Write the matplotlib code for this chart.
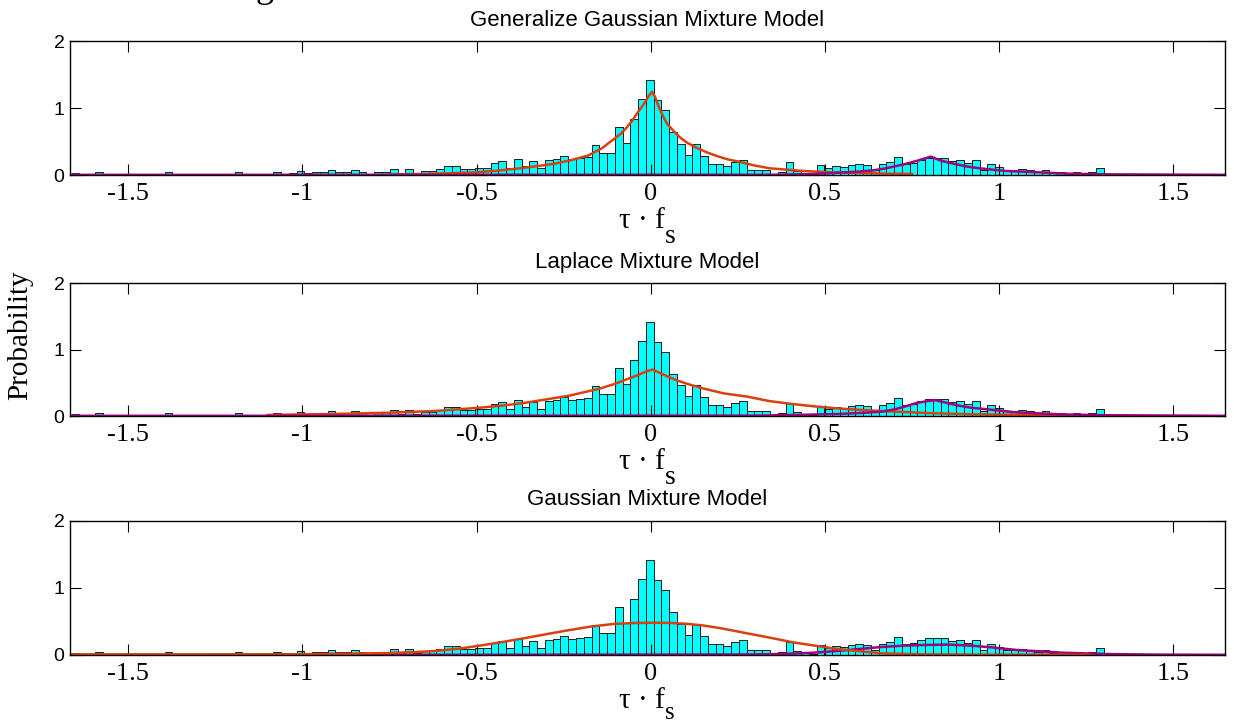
import numpy as np
import matplotlib
matplotlib.use('Agg')
import matplotlib.pyplot as plt

# histogram of tau*fs (same data in all three panels), 149 bins
bin_w = 0.02228
heights = [
    0.025, 0, 0, 0.05, 0, 0, 0, 0, 0, 0,                        # 0-9
    0.02, 0, 0.04, 0, 0, 0, 0, 0.02, 0, 0.02,                   # 10-19
    0, 0.05, 0, 0.02, 0, 0, 0.04, 0, 0.035, 0.055,              # 20-29
    0.035, 0.045, 0.045, 0.08, 0.045, 0.045, 0.075, 0.05, 0.02, 0.045,   # 30-39
    0.045, 0.095, 0.03, 0.09, 0.03, 0.06, 0.06, 0.09, 0.135, 0.135,      # 40-49
    0.09, 0.09, 0.105, 0.105, 0.18, 0.21, 0.105, 0.24, 0.135, 0.21,      # 50-59
    0.105, 0.225, 0.24, 0.285, 0.24, 0.255, 0.27, 0.45, 0.33, 0.33,      # 60-69
    0.72, 0.48, 0.84, 1.135, 1.42, 1.12, 0.97, 0.635, 0.46, 0.295,       # 70-79
    0.46, 0.285, 0.16, 0.16, 0.13, 0.195, 0.22, 0.08, 0.07, 0.07,        # 80-89
    0.01, 0.05, 0.195, 0.06, 0.035, 0.02, 0.145, 0.11, 0.13, 0.12,       # 90-99
    0.15, 0.16, 0.145, 0.07, 0.16, 0.2, 0.27, 0.16, 0.185, 0.23,         # 100-109
    0.26, 0.26, 0.25, 0.21, 0.22, 0.175, 0.22, 0.07, 0.16, 0.12,         # 110-119
    0.07, 0.07, 0.085, 0.07, 0.05, 0.07, 0.03, 0.05, 0.03, 0.05,         # 120-129
    0.02, 0.05, 0.105, 0.02, 0, 0, 0.02, 0, 0.02, 0,                     # 130-139
    0, 0, 0, 0.02, 0, 0, 0, 0, 0,                                         # 140-148
]
centers = (np.arange(len(heights)) - 74) * bin_w - 0.003

titles = ['Generalize Gaussian Mixture Model', 'Laplace Mixture Model', 'Gaussian Mixture Model']

# first mixture component (red)
red_x = [
    [-0.75, -0.66, -0.58, -0.5, -0.44, -0.376, -0.33, -0.28, -0.23, -0.18, -0.14, -0.105,
     -0.085, -0.068, -0.052, -0.04, -0.028, -0.016, -0.006, 0.004, 0.012, 0.022, 0.034,
     0.046, 0.065, 0.084, 0.105, 0.13, 0.16, 0.189, 0.22, 0.256, 0.3, 0.342, 0.39, 0.438,
     0.52, 0.6, 0.68, 0.75],
    [-1.1, -0.9, -0.75, -0.62, -0.49, -0.42, -0.36, -0.3, -0.235, -0.19, -0.145, -0.105,
     -0.07, -0.04, -0.015, 0.005, 0.025, 0.05, 0.073, 0.11, 0.15, 0.21, 0.279, 0.34,
     0.407, 0.47, 0.535, 0.6, 0.664, 0.792, 0.92, 1.05, 1.2],
    [-1.6675, -1.2, -1.0, -0.85, -0.75, -0.68, -0.62, -0.55, -0.49, -0.43, -0.363, -0.3,
     -0.235, -0.17, -0.107, -0.05, 0.0, 0.02, 0.05, 0.1, 0.15, 0.2, 0.279, 0.34, 0.407,
     0.47, 0.535, 0.6, 0.664, 0.73, 0.79, 0.95, 1.1, 1.26],
]
red_y = [
    [0.008, 0.015, 0.025, 0.04, 0.065, 0.10, 0.13, 0.165, 0.22, 0.29, 0.40, 0.54,
     0.62, 0.715, 0.82, 0.915, 1.0, 1.09, 1.18, 1.24, 1.17, 1.03, 0.89,
     0.77, 0.66, 0.56, 0.48, 0.41, 0.34, 0.285, 0.235, 0.195, 0.14, 0.10, 0.08, 0.06,
     0.04, 0.03, 0.02, 0.015],
    [0.016, 0.032, 0.05, 0.075, 0.125, 0.16, 0.2, 0.25, 0.305, 0.36, 0.415, 0.48,
     0.55, 0.61, 0.665, 0.70, 0.65, 0.59, 0.54, 0.475, 0.415, 0.34, 0.29, 0.225,
     0.18, 0.145, 0.115, 0.092, 0.075, 0.045, 0.026, 0.018, 0.01],
    [0.01, 0.01, 0.012, 0.02, 0.03, 0.042, 0.06, 0.095, 0.14, 0.19, 0.25, 0.31,
     0.37, 0.425, 0.462, 0.476, 0.48, 0.48, 0.478, 0.466, 0.44, 0.40, 0.32, 0.26, 0.19,
     0.14, 0.09, 0.055, 0.025, 0.015, 0.01, 0.005, 0.005, 0.003],
]

# second mixture component (purple)
purple_x = [
    [-1.6675, 0.35, 0.45, 0.543, 0.6, 0.639, 0.675, 0.706, 0.735, 0.763, 0.785, 0.804,
     0.83, 0.855, 0.878, 0.91, 0.945, 0.98, 1.022, 1.115, 1.2, 1.3, 1.6486],
    [-1.6675, 0.3, 0.407, 0.535, 0.6, 0.664, 0.7, 0.728, 0.766, 0.79, 0.815, 0.835, 0.856,
     0.885, 0.92, 0.985, 1.05, 1.177, 1.3, 1.6486],
    [-1.25, -0.5, 0.3, 0.407, 0.47, 0.535, 0.6, 0.664, 0.73, 0.79, 0.85, 0.92, 0.985,
     1.05, 1.18, 1.305, 1.45, 1.6486],
]
purple_y = [
    [0.003, 0.004, 0.012, 0.035, 0.052, 0.07, 0.1, 0.135, 0.17, 0.21, 0.245, 0.275,
     0.22, 0.185, 0.16, 0.125, 0.10, 0.08, 0.06, 0.04, 0.02, 0.01, 0.003],
    [0.003, 0.005, 0.015, 0.03, 0.045, 0.065, 0.1, 0.14, 0.2, 0.22, 0.24, 0.215, 0.19,
     0.155, 0.125, 0.09, 0.055, 0.025, 0.012, 0.003],
    [0.003, 0.003, 0.008, 0.02, 0.035, 0.06, 0.09, 0.12, 0.14, 0.15, 0.155, 0.14, 0.11,
     0.075, 0.035, 0.015, 0.006, 0.003],
]

xticks = [-1.5, -1, -0.5, 0, 0.5, 1, 1.5]
xticklabels = ['-1.5', '-1', '-0.5', '0', '0.5', '1', '1.5']
yticks = [0, 1, 2]

RED = '#d9400f'
PURPLE = '#a0007e'
SERIF = 'Liberation Serif'
SANS = 'Liberation Sans'

fig = plt.figure(figsize=(12.34, 7.22), dpi=100)
positions = [[0.0567, 0.7576, 0.936, 0.1856],
             [0.0567, 0.4238, 0.936, 0.1842],
             [0.0567, 0.0928, 0.936, 0.1860]]

for k in range(3):
    ax = fig.add_axes(positions[k])
    ax.bar(centers, heights, width=bin_w, color='cyan', edgecolor='#1a1a1a', linewidth=0.7)
    if k == 2:
        ax.plot(purple_x[k], purple_y[k], color=PURPLE, lw=1.8)
        ax.plot(red_x[k], red_y[k], color=RED, lw=1.8)
    else:
        ax.plot(red_x[k], red_y[k], color=RED, lw=1.8)
        ax.plot(purple_x[k], purple_y[k], color=PURPLE, lw=1.8)

    ax.set_xlim(-1.6675, 1.6486)
    ax.set_ylim(0, 2)
    ax.set_xticks(xticks)
    ax.set_xticklabels(xticklabels, fontfamily=SERIF, fontsize=19)
    ax.set_yticks(yticks)
    ax.set_yticklabels([str(v) for v in yticks], fontfamily=SANS, fontsize=14)
    ax.tick_params(direction='in', length=8, width=0.8, top=True, right=True)
    ax.tick_params(axis='x', pad=6)
    ax.tick_params(axis='y', pad=4)
    for sp in ax.spines.values():
        sp.set_linewidth(1.0)
    ax.set_title(titles[k], fontfamily=SANS, fontsize=16, pad=11)

    # x label: tau . f with a low subscript s
    s_off = -42 if k == 2 else -44.6
    s_size = 18 if k == 2 else 20
    ax.annotate('τ · f', xy=(0.5, 0), xycoords='axes fraction', xytext=(12.6, -33),
                textcoords='offset points', ha='right', va='center',
                fontfamily=SERIF, fontsize=21)
    ax.annotate('s', xy=(0.5, 0), xycoords='axes fraction', xytext=(12.6, s_off),
                textcoords='offset points', ha='left', va='center',
                fontfamily=SERIF, fontsize=s_size)

fig.text(20 / 1234, 1 - 335 / 722, 'Probability', rotation=90, ha='center', va='center',
         fontfamily=SERIF, fontsize=21)
# descender of a cut-off caption above the figure
fig.text(265 / 1234, 1 + 3 / 722, 'g', ha='center', va='baseline',
         fontfamily=SERIF, fontsize=26)

fig.savefig('out.png', dpi=100)
